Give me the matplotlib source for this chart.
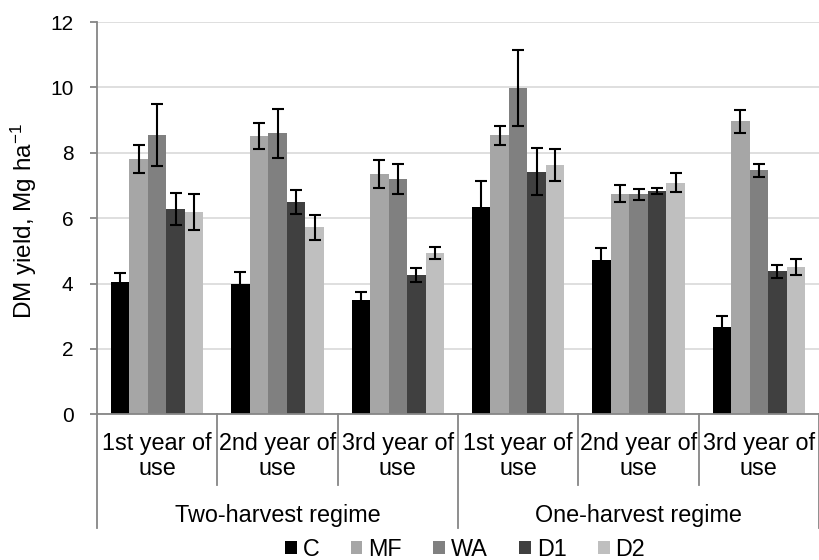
import matplotlib
matplotlib.use("Agg")
import matplotlib.pyplot as plt
import numpy as np

plt.rcParams['font.family'] = ['Liberation Sans', 'DejaVu Sans']
plt.rcParams['mathtext.fontset'] = 'custom'
plt.rcParams['mathtext.rm'] = 'Liberation Sans'
plt.rcParams['mathtext.default'] = 'regular'

# data
years = ["1st year of\nuse", "2nd year of\nuse", "3rd year of\nuse"] * 2
regimes = ["Two-harvest regime", "One-harvest regime"]
series = ["C", "MF", "WA", "D1", "D2"]
colors = ["#000000", "#a6a6a6", "#808080", "#404040", "#bfbfbf"]

C = [4.06, 3.98, 3.50, 6.34, 4.72, 2.68]
MF = [7.81, 8.51, 7.35, 8.53, 6.75, 8.96]
WA = [8.54, 8.59, 7.19, 9.98, 6.73, 7.47]
D1 = [6.29, 6.50, 4.27, 7.42, 6.83, 4.38]
D2 = [6.18, 5.72, 4.94, 7.63, 7.08, 4.50]

C_err = [0.25, 0.38, 0.23, 0.80, 0.37, 0.33]
MF_err = [0.43, 0.40, 0.43, 0.30, 0.25, 0.36]
WA_err = [0.95, 0.74, 0.46, 1.15, 0.16, 0.20]
D1_err = [0.49, 0.36, 0.22, 0.72, 0.10, 0.20]
D2_err = [0.55, 0.39, 0.18, 0.48, 0.29, 0.25]

values = [C, MF, WA, D1, D2]
errors = [C_err, MF_err, WA_err, D1_err, D2_err]

W, H = 819, 560
fig = plt.figure(figsize=(W / 100, H / 100), dpi=100)
ax = fig.add_axes([97 / W, 1 - 414.3 / H, 722 / W, (414.3 - 22) / H])

x = np.arange(len(years))
width = 0.154
for i, (name, vals, errs, col) in enumerate(zip(series, values, errors, colors)):
    ax.bar(x + (i - 2) * width, vals, width, color=col, label=name, zorder=2)
    ax.errorbar(x + (i - 2) * width, vals, yerr=errs, fmt='none',
                ecolor='black', elinewidth=1.5, capsize=4.3, capthick=1.5,
                zorder=3)

ax.set_xlim(-0.5, len(years) - 0.5)
ax.set_ylim(0, 12)
ax.set_yticks(np.arange(0, 13, 2))
ax.yaxis.grid(True, color='#d9d9d9', linewidth=1.2, zorder=0)
ax.set_axisbelow(True)

for s in ['top', 'right']:
    ax.spines[s].set_visible(False)
for s in ['left', 'bottom']:
    ax.spines[s].set_color('#868686')
    ax.spines[s].set_linewidth(1.3)

ax.tick_params(axis='y', length=5, width=1.3, color='#868686', pad=12,
               labelsize=15)
ax.set_xticks([])

# two-level category axis
trans = ax.get_xaxis_transform()
for b in [0.5, 1.5, 3.5, 4.5]:
    ax.plot([b, b], [0, -0.18], transform=trans, color='#868686',
            lw=1.3, clip_on=False)
for b in [-0.5, 2.5, 5.5]:
    ax.plot([b, b], [0, -0.29], transform=trans, color='#868686',
            lw=1.3, clip_on=False)

for xi, lab in zip(x, years):
    ax.text(xi, -0.107, lab, transform=trans, ha='center', va='center',
            fontsize=16.8, linespacing=1.12)
for k, lab in enumerate(regimes):
    ax.text(1 + 3 * k, -0.258, lab, transform=trans, ha='center',
            va='center', fontsize=16.8)

fig.text(24 / W, 1 - 221 / H, "DM yield, Mg ha$^{-1}$", rotation=90,
         ha='center', va='center', fontsize=17.5)

fig.legend(loc='center', bbox_to_anchor=(465 / W, 1 - 549 / H), ncol=5,
           frameon=False, fontsize=16.8, handlelength=0.5, handleheight=0.5,
           handletextpad=0.25, columnspacing=1.35, borderpad=0)

fig.savefig("out.png", dpi=100)
